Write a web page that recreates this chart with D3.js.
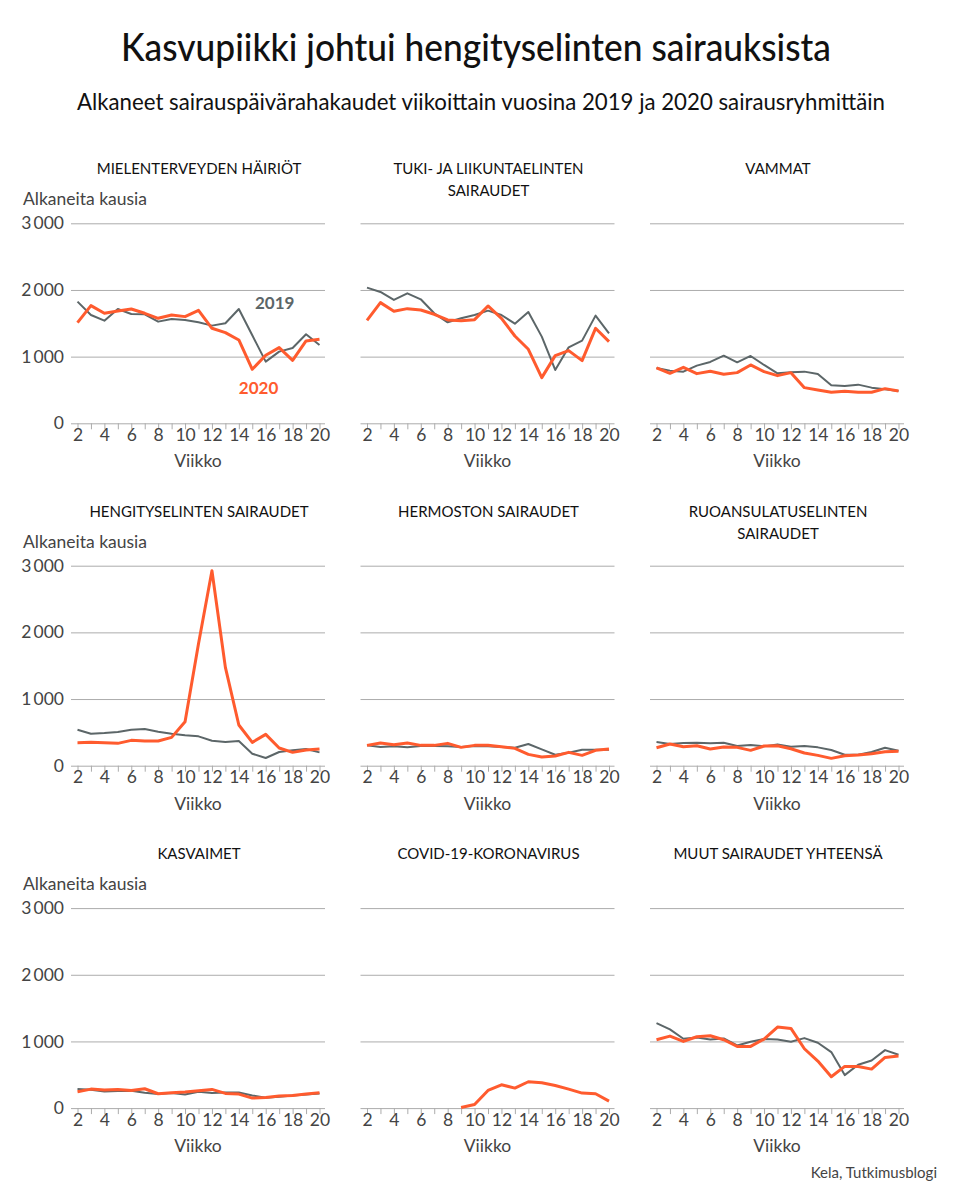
<!DOCTYPE html>
<html>
<head>
<meta charset="utf-8">
<script src="https://cdn.jsdelivr.net/npm/d3@7"></script>
<style>
  body { margin: 0; background: #fff; }
  text { font-family: Lato, "Noto Sans", sans-serif; }
</style>
</head>
<body>
<svg></svg>
<script>
const width = 960;
const height = 1199;

// viikot 2-20
const weeks = d3.range(2, 21);

const titles = [
  ["MIELENTERVEYDEN HÄIRIÖT"],
  ["TUKI- JA LIIKUNTAELINTEN", "SAIRAUDET"],
  ["VAMMAT"],
  ["HENGITYSELINTEN SAIRAUDET"],
  ["HERMOSTON SAIRAUDET"],
  ["RUOANSULATUSELINTEN", "SAIRAUDET"],
  ["KASVAIMET"],
  ["COVID-19-KORONAVIRUS"],
  ["MUUT SAIRAUDET YHTEENSÄ"],
];

const s2019 = [
  [1825, 1625, 1540, 1715, 1640, 1635, 1525, 1565, 1550, 1515, 1465, 1500, 1715, 1320, 925, 1075, 1130, 1335, 1175],
  [2035, 1970, 1850, 1950, 1860, 1650, 1515, 1575, 1625, 1690, 1625, 1495, 1670, 1300, 800, 1140, 1240, 1615, 1350],
  [830, 790, 775, 865, 920, 1015, 915, 1010, 875, 750, 765, 775, 740, 570, 560, 580, 535, 510, 485],
  [540, 480, 490, 505, 540, 550, 510, 480, 455, 440, 375, 355, 370, 180, 115, 205, 230, 250, 200],
  [305, 280, 290, 275, 295, 295, 290, 280, 295, 290, 280, 270, 325, 245, 165, 195, 240, 240, 240],
  [355, 325, 340, 345, 335, 345, 295, 310, 290, 320, 285, 295, 275, 235, 165, 165, 205, 270, 225],
  [285, 275, 250, 255, 260, 230, 210, 225, 205, 245, 225, 235, 235, 190, 155, 170, 190, 205, 220],
  null,
  [1275, 1180, 1040, 1060, 1030, 1045, 940, 995, 1035, 1030, 995, 1050, 980, 840, 495, 650, 715, 870, 800],
];

const s2020 = [
  [1510, 1765, 1650, 1685, 1715, 1650, 1575, 1625, 1600, 1695, 1425, 1360, 1250, 810, 1020, 1135, 945, 1235, 1260],
  [1545, 1810, 1680, 1720, 1700, 1635, 1550, 1540, 1555, 1760, 1575, 1310, 1110, 685, 1015, 1090, 940, 1425, 1225],
  [830, 750, 840, 745, 780, 735, 760, 875, 775, 715, 760, 535, 500, 465, 480, 465, 465, 520, 485],
  [345, 350, 345, 335, 380, 370, 370, 425, 660, 1830, 2925, 1475, 610, 350, 470, 265, 200, 235, 250],
  [305, 340, 315, 340, 305, 305, 335, 275, 305, 305, 285, 260, 170, 130, 145, 200, 155, 230, 250],
  [270, 325, 285, 300, 250, 280, 275, 230, 295, 300, 255, 190, 155, 110, 150, 160, 180, 210, 215],
  [245, 285, 270, 280, 265, 290, 215, 230, 240, 260, 280, 220, 210, 150, 160, 180, 190, 210, 230],
  [null, null, null, null, null, null, null, 10, 55, 265, 350, 300, 395, 380, 340, 285, 225, 215, 105],
  [1025, 1080, 1000, 1070, 1085, 1025, 925, 925, 1035, 1215, 1195, 890, 705, 470, 625, 625, 585, 760, 780],
];

const yTicks = [0, 1000, 2000, 3000];
const xTicks = [2, 4, 6, 8, 10, 12, 14, 16, 18, 20];

const grey = "#5c6668";
const orange = "#ff5b2e";
const gridColor = "#acacac";
const textGrey = "#444";

const svg = d3.select("svg").attr("width", width).attr("height", height);

svg.append("text")
  .attr("x", 476).attr("y", 61)
  .attr("text-anchor", "middle")
  .attr("textLength", 710).attr("lengthAdjust", "spacingAndGlyphs")
  .style("font-size", "38px").style("font-weight", "500").attr("fill", "#111")
  .text("Kasvupiikki johtui hengityselinten sairauksista");

svg.append("text")
  .attr("x", 481).attr("y", 110)
  .attr("text-anchor", "middle")
  .attr("textLength", 808).attr("lengthAdjust", "spacingAndGlyphs")
  .style("font-size", "23px").attr("fill", "#111")
  .text("Alkaneet sairauspäivärahakaudet viikoittain vuosina 2019 ja 2020 sairausryhmittäin");

svg.append("text")
  .attr("x", 937).attr("y", 1178)
  .attr("text-anchor", "end")
  .style("font-size", "15px").attr("fill", textGrey)
  .text("Kela, Tutkimusblogi");

const panelW = 254;

titles.forEach((title, i) => {
  const col = i % 3;
  const row = Math.floor(i / 3);
  const left = 71 + col * 289.5;
  const base = 423.3 + row * 342.4;

  const x = d3.scaleLinear().domain([2, 20]).range([left + 6.5, left + 248.5]);
  const y = d3.scaleLinear().domain([0, 3000]).range([base, base - 200]);

  const g = svg.append("g");

  // gridlines
  g.append("g")
    .attr("transform", `translate(${left},0)`)
    .call(d3.axisLeft(y).tickValues(yTicks.slice(1)).tickSize(-panelW).tickFormat(""))
    .call(a => a.select(".domain").remove())
    .call(a => a.selectAll("line").attr("stroke", gridColor));

  if (col === 0) {
    g.append("g")
      .attr("transform", `translate(${left - 4},0)`)
      .call(d3.axisLeft(y).tickValues(yTicks).tickSize(0)
        .tickFormat(d => d3.format(",")(d).replace(",", "\u2009")))
      .call(a => a.select(".domain").remove())
      .call(a => a.selectAll("text")
        .attr("fill", textGrey).style("font-size", "17.5px")
        .style("font-family", "Lato, sans-serif"));

    g.append("text")
      .attr("x", 23).attr("y", base - 218)
      .style("font-size", "17.5px").attr("fill", textGrey)
      .text("Alkaneita kausia");
  }

  // x axis
  g.append("g")
    .attr("transform", `translate(0,${base})`)
    .call(d3.axisBottom(x).tickValues(weeks).tickSize(6).tickSizeOuter(0)
      .tickFormat(d => xTicks.includes(d) ? d : ""))
    .call(a => a.select(".domain").attr("d", `M${left},0.5H${left + panelW}`).attr("stroke", gridColor))
    .call(a => a.selectAll("line").attr("stroke", gridColor))
    .call(a => a.selectAll("text")
      .attr("fill", textGrey).attr("dy", "0.5em").style("font-size", "17.5px")
      .style("font-family", "Lato, sans-serif"));

  g.append("text")
    .attr("x", left + panelW / 2).attr("y", base + 44)
    .attr("text-anchor", "middle")
    .style("font-size", "17.5px").attr("fill", textGrey)
    .text("Viikko");

  // panel title
  title.forEach((t, k) => {
    g.append("text")
      .attr("x", left + panelW / 2 + 1).attr("y", base - 249 + k * 22)
      .attr("text-anchor", "middle")
      .style("font-size", "15px").attr("fill", "#111")
      .text(t);
  });

  const line = d3.line()
    .defined(d => d != null)
    .x((d, j) => x(weeks[j]))
    .y(d => y(d));

  if (s2019[i]) {
    g.append("path")
      .datum(s2019[i])
      .attr("fill", "none").attr("stroke", grey).attr("stroke-width", 2)
      .attr("stroke-linejoin", "round")
      .attr("d", line);
  }

  g.append("path")
    .datum(s2020[i])
    .attr("fill", "none").attr("stroke", orange).attr("stroke-width", 3)
    .attr("stroke-linejoin", "round")
    .attr("d", line);

  if (i === 0) {
    g.append("text")
      .attr("x", x(15.2)).attr("y", y(1720))
      .style("font-size", "17px").style("font-weight", "bold").attr("fill", grey)
      .text("2019");
    g.append("text")
      .attr("x", x(14.0)).attr("y", y(435))
      .style("font-size", "17px").style("font-weight", "bold").attr("fill", orange)
      .text("2020");
  }
});
</script>
</body>
</html>
